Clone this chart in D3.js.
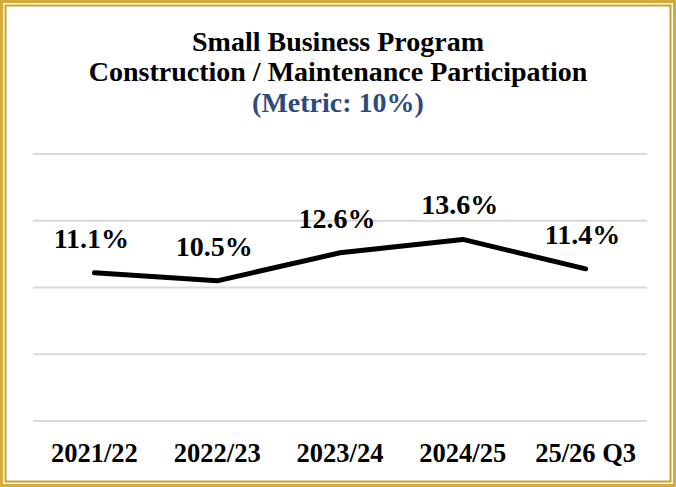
<!DOCTYPE html>
<html>
<head>
<meta charset="utf-8">
<script src="https://cdn.jsdelivr.net/npm/d3@7"></script>
<style>
  html, body { margin: 0; padding: 0; background: #fff; }
  svg { display: block; }
  text { font-family: "Liberation Serif", "Times New Roman", serif; font-weight: bold; }
</style>
</head>
<body>
<div id="chart"></div>
<script>
// Chart data
const categories = ['2021/22', '2022/23', '2023/24', '2024/25', '25/26 Q3'];
const participation = [11.1, 10.5, 12.6, 13.6, 11.4];
const yTicks = [0, 5, 10, 15, 20];
const titleLines = ['Small Business Program', 'Construction / Maintenance Participation'];
const metricLine = '(Metric: 10%)';

const width = 676;
const height = 487;
const margin = { top: 154, right: 29, bottom: 66, left: 33 };

const svg = d3.select('#chart')
  .append('svg')
  .attr('width', width)
  .attr('height', height);

// Gold double frame
svg.append('rect')
  .attr('x', 1.5).attr('y', 1.5)
  .attr('width', width - 3).attr('height', height - 3)
  .attr('fill', 'none')
  .attr('stroke', '#D4AA3A')
  .attr('stroke-width', 3);
svg.append('rect')
  .attr('x', 5.5).attr('y', 5.5)
  .attr('width', width - 11).attr('height', height - 11)
  .attr('fill', 'none')
  .attr('stroke', '#C9A02C')
  .attr('stroke-width', 2);

// Title
svg.selectAll('text.title')
  .data(titleLines)
  .join('text')
  .attr('class', 'title')
  .attr('x', width / 2)
  .attr('y', (d, i) => 51 + i * 30)
  .attr('text-anchor', 'middle')
  .attr('font-size', '28px')
  .attr('fill', '#000')
  .text(d => d);

svg.append('text')
  .attr('x', width / 2)
  .attr('y', 112)
  .attr('text-anchor', 'middle')
  .attr('font-size', '28px')
  .attr('fill', '#2E4A7D')
  .text(metricLine);

const innerWidth = width - margin.left - margin.right;
const innerHeight = height - margin.top - margin.bottom;

const g = svg.append('g')
  .attr('transform', `translate(${margin.left}, ${margin.top})`);

const x = d3.scaleBand()
  .domain(categories)
  .range([0, innerWidth]);

const y = d3.scaleLinear()
  .domain([0, 20])
  .range([innerHeight, 0]);

// Gridlines
g.selectAll('line.grid')
  .data(yTicks)
  .join('line')
  .attr('class', 'grid')
  .attr('x1', 0)
  .attr('x2', innerWidth)
  .attr('y1', d => y(d))
  .attr('y2', d => y(d))
  .attr('stroke', '#D9D9D9')
  .attr('stroke-width', 2);

// Category axis labels
const xAxis = g.append('g')
  .attr('transform', `translate(0, ${innerHeight})`)
  .call(d3.axisBottom(x).tickSize(0).tickPadding(0));
xAxis.select('.domain').remove();
xAxis.selectAll('text')
  .attr('dy', null)
  .attr('y', 41)
  .attr('font-family', '"Liberation Serif", "Times New Roman", serif')
  .attr('font-size', '26.5px')
  .attr('font-weight', 'bold')
  .attr('fill', '#000');

// Line
const line = d3.line()
  .x((d, i) => x(categories[i]) + x.bandwidth() / 2)
  .y(d => y(d));

g.append('path')
  .datum(participation)
  .attr('d', line)
  .attr('fill', 'none')
  .attr('stroke', '#000')
  .attr('stroke-width', 5)
  .attr('stroke-linecap', 'round')
  .attr('stroke-linejoin', 'round');

// Data labels
g.selectAll('text.value')
  .data(participation)
  .join('text')
  .attr('class', 'value')
  .attr('x', (d, i) => x(categories[i]) + x.bandwidth() / 2 - 3)
  .attr('y', d => y(d) - 25)
  .attr('text-anchor', 'middle')
  .attr('font-size', '28px')
  .attr('fill', '#000')
  .text(d => d.toFixed(1) + '%');
</script>
</body>
</html>
